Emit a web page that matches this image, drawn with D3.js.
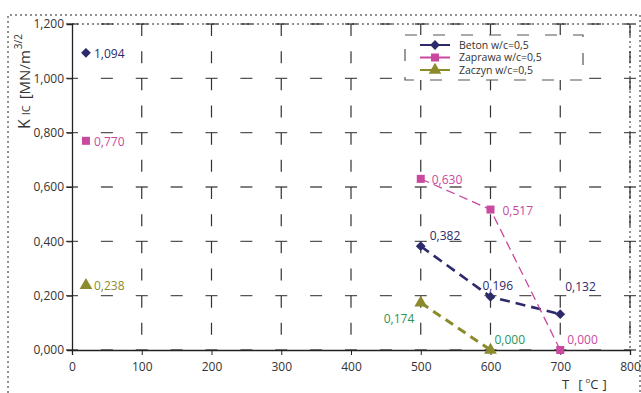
<!DOCTYPE html>
<html>
<head>
<meta charset="utf-8">
<script src="https://cdn.jsdelivr.net/npm/d3@7"></script>
<style>
  body { margin: 0; background: #fff; }
  svg text { font-family: "Open Sans", "Noto Sans", sans-serif; }
</style>
</head>
<body>
<div id="chart-area"></div>
<script>
// temperatures [°C]; first point (20 °C) is the unheated reference
const temps = [20, 500, 600, 700];
const beton = [1.094, 0.382, 0.196, 0.132];
const zaprawa = [0.770, 0.630, 0.517, 0.000];
const zaczyn = [0.238, 0.174, 0.000, null];
const seriesNames = ['Beton w/c=0,5', 'Zaprawa w/c=0,5', 'Zaczyn w/c=0,5'];
const xTicks = [0, 100, 200, 300, 400, 500, 600, 700, 800];
const yTicks = [0, 0.2, 0.4, 0.6, 0.8, 1.0, 1.2];

const svgWidth = 641, svgHeight = 393;

const svg = d3.select('#chart-area')
  .append('svg')
    .attr('width', svgWidth)
    .attr('height', svgHeight);

const x = d3.scaleLinear().domain([0, 800]).range([72, 630]);
const y = d3.scaleLinear().domain([0, 1.2]).range([350, 24]);
const fmt = v => d3.format('.3f')(v).replace('.', ',');

// outer dotted frame
svg.append('path')
  .attr('d', `M8,${svgHeight} L8,15 L640,15 L640,${svgHeight}`)
  .attr('fill', 'none')
  .attr('stroke', '#222')
  .attr('stroke-width', 1)
  .attr('stroke-dasharray', '2,3');

// grid
const hStep = (x(100) - x(0)) / 2;
const vStep = (y(0) - y(0.2)) / 2;
svg.append('g').selectAll('line')
  .data(yTicks)
  .enter().append('line')
    .attr('x1', x(0) - 6).attr('x2', x(800) + 6)
    .attr('y1', d => y(d)).attr('y2', d => y(d))
    .attr('stroke', '#555')
    .attr('stroke-width', 1.3)
    .attr('stroke-dasharray', `12,${hStep - 12}`);
svg.append('g').selectAll('line')
  .data(xTicks.slice(1))
  .enter().append('line')
    .attr('x1', d => x(d)).attr('x2', d => x(d))
    .attr('y1', y(1.2)).attr('y2', y(0))
    .attr('stroke', '#333')
    .attr('stroke-width', 1.2)
    .attr('stroke-dasharray', `12,${vStep - 12}`);

// dotted top/right of plot area
svg.append('path')
  .attr('d', `M${x(0)},${y(1.2)} L${x(800)},${y(1.2)} L${x(800)},${y(0)}`)
  .attr('fill', 'none')
  .attr('stroke', '#222')
  .attr('stroke-dasharray', '2,3');

// axes
const xAxis = svg.append('g')
  .attr('transform', `translate(0,${y(0)})`)
  .call(d3.axisBottom(x).tickValues(xTicks).tickSize(5).tickFormat(d3.format('d')));
const yAxis = svg.append('g')
  .attr('transform', `translate(${x(0)},0)`)
  .call(d3.axisLeft(y).tickValues(yTicks).tickSize(5).tickFormat(fmt));
[xAxis, yAxis].forEach(a => {
  a.select('.domain').attr('stroke', '#222').attr('stroke-width', 1.3);
  a.selectAll('.tick line').attr('stroke', '#222');
  a.selectAll('.tick text')
    .attr('fill', '#333')
    .attr('font-size', 12)
    .attr('font-family', '"Open Sans", sans-serif');
});
xAxis.selectAll('.tick text').attr('dy', '1.05em');
yAxis.selectAll('.tick text').attr('x', -8);

// axis titles
const yTitle = svg.append('text')
  .attr('transform', 'translate(30,129) rotate(-90)')
  .attr('fill', '#333');
yTitle.append('tspan').text('K').attr('font-size', 16);
yTitle.append('tspan').text('IC').attr('font-size', 11).attr('dx', 4);
yTitle.append('tspan').text(' [MN/m').attr('font-size', 15).attr('dx', 2);
yTitle.append('tspan').text('3/2').attr('font-size', 10).attr('dy', -8).attr('dx', 1);

const xTitle = svg.append('text')
  .attr('x', 562).attr('y', 389)
  .attr('fill', '#333')
  .attr('font-size', 13);
xTitle.append('tspan').text('T');
xTitle.append('tspan').text('[').attr('dx', 9);
xTitle.append('tspan').text('o').attr('font-size', 8).attr('dy', -6).attr('dx', 3);
xTitle.append('tspan').text('C').attr('dy', 6);
xTitle.append('tspan').text(']').attr('dx', 4);

// series
const diamond = d3.symbol().type(d3.symbolSquare).size(48);
const series = [
  { name: seriesNames[0], values: beton, color: '#2d2a6c', width: 2.6, dash: '10,6',
    symbol: diamond, rotate: 45, labelColor: ['#2d2a6c', '#2d2a6c', '#2d2a6c', '#2d2a6c'],
    offsets: [[8, 5], [9, -6], [-8, -7], [5, -23]] },
  { name: seriesNames[1], values: zaprawa, color: '#c8499e', width: 1.3, dash: '9,5',
    symbol: d3.symbol().type(d3.symbolSquare).size(64), rotate: 0,
    labelColor: ['#c8499e', '#c8499e', '#c8499e', '#c8499e'],
    offsets: [[8, 5], [11, 5], [12, 5], [7, -6]] },
  { name: seriesNames[2], values: zaczyn, color: '#8b8a2c', width: 3, dash: '9,6',
    symbol: d3.symbol().type(d3.symbolTriangle).size(70), rotate: 0,
    labelColor: ['#8b8a2c', '#2d9458', '#2d9458', '#2d9458'],
    offsets: [[8, 5], [-37, 20], [4, -6], [0, 0]] }
];

const line = d3.line()
  .defined(d => d.v !== null)
  .x(d => x(d.t))
  .y(d => y(d.v));

series.forEach(s => {
  const pts = temps.map((t, i) => ({ t: t, v: s.values[i], i: i }));
  // heated specimens (500 °C and up) joined by a line
  svg.append('path')
    .datum(pts.slice(1))
    .attr('d', line)
    .attr('fill', 'none')
    .attr('stroke', s.color)
    .attr('stroke-width', s.width)
    .attr('stroke-dasharray', s.dash);

  const valid = pts.filter(d => d.v !== null);
  svg.append('g').selectAll('path')
    .data(valid)
    .enter().append('path')
      .attr('d', s.symbol)
      .attr('transform', d => `translate(${x(d.t)},${y(d.v)}) rotate(${s.rotate})`)
      .attr('fill', s.color);

  svg.append('g').selectAll('text')
    .data(valid)
    .enter().append('text')
      .text(d => fmt(d.v))
      .attr('x', d => x(d.t) + s.offsets[d.i][0])
      .attr('y', d => y(d.v) + s.offsets[d.i][1])
      .attr('fill', d => s.labelColor[d.i])
      .attr('font-size', 12);
});

// legend
const legend = svg.append('g').attr('transform', 'translate(405,35)');
legend.append('rect')
  .attr('width', 178).attr('height', 45)
  .attr('fill', '#fff')
  .attr('stroke', '#555')
  .attr('stroke-width', 1.2)
  .attr('stroke-dasharray', '12,16');
series.forEach((s, i) => {
  const g = legend.append('g').attr('transform', `translate(0,${10 + i * 12.5})`);
  g.append('line')
    .attr('x1', 15).attr('x2', 45)
    .attr('stroke', s.color)
    .attr('stroke-width', 2);
  g.append('path')
    .attr('d', s.symbol)
    .attr('transform', `translate(30,0) rotate(${s.rotate})`)
    .attr('fill', s.color);
  g.append('text')
    .text(s.name)
    .attr('x', 54).attr('y', 3.5)
    .attr('fill', '#333')
    .attr('font-size', 10.5);
});
</script>
</body>
</html>
